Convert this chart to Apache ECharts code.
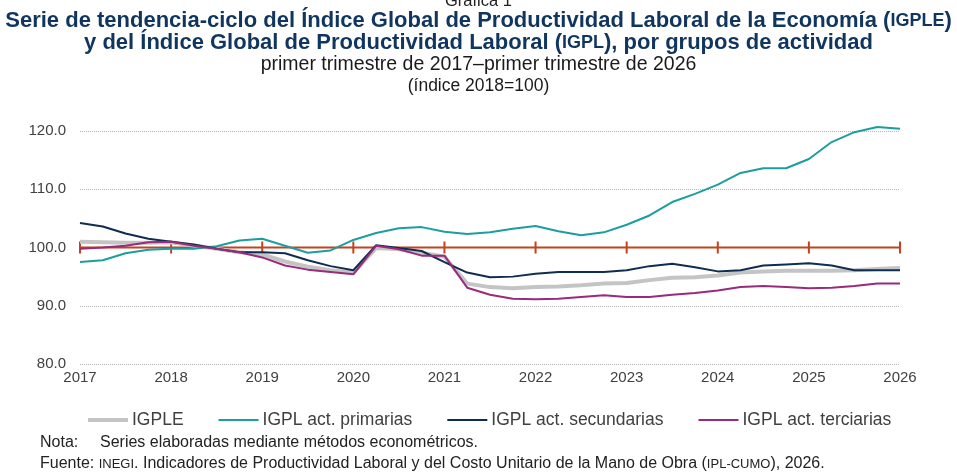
<!DOCTYPE html>
<html>
<head>
<meta charset="utf-8">
<script src="https://cdn.jsdelivr.net/npm/echarts@6/dist/echarts.min.js"></script>
<style>
  html, body { margin: 0; padding: 0; background: #fff; }
  #chart { width: 957px; height: 475px; }
</style>
</head>
<body>
<div id="chart"></div>
<script>
// series de tendencia-ciclo, trimestral 2017T1 - 2026T1
var years = [2017, 2018, 2019, 2020, 2021, 2022, 2023, 2024, 2025, 2026];

var igple = [101.0, 100.9, 100.8, 100.8, 100.9, 100.3, 99.8, 99.2, 98.8, 97.6, 96.7, 96.1, 95.7,
  99.9, 99.7, 99.1, 98.4, 93.8, 93.2, 93.0, 93.2, 93.3, 93.5, 93.8, 93.9, 94.4, 94.8, 94.9,
  95.2, 95.7, 95.9, 96.0, 96.0, 96.0, 96.1, 96.3, 96.5];
var primarias = [97.5, 97.8, 99.0, 99.6, 99.8, 99.8, 100.2, 101.2, 101.5, 100.3, 99.1, 99.5, 101.3,
  102.5, 103.3, 103.5, 102.7, 102.3, 102.6, 103.2, 103.7, 102.8, 102.1, 102.6, 103.9, 105.5, 107.8,
  109.2, 110.8, 112.8, 113.6, 113.6, 115.2, 118.1, 119.8, 120.7, 120.4];
var secundarias = [104.2, 103.6, 102.4, 101.5, 101.0, 100.5, 99.8, 99.2, 99.2, 99.0, 97.8, 96.8, 96.1,
  100.4, 99.9, 99.4, 97.5, 95.7, 94.9, 95.0, 95.5, 95.8, 95.8, 95.8, 96.1, 96.8, 97.2, 96.6,
  95.9, 96.1, 96.9, 97.1, 97.3, 96.9, 96.1, 96.1, 96.1];
var terciarias = [99.8, 100.0, 100.3, 100.9, 101.0, 100.3, 99.8, 99.2, 98.3, 96.9, 96.2, 95.8, 95.4,
  100.3, 99.7, 98.6, 98.6, 93.1, 91.9, 91.2, 91.1, 91.2, 91.5, 91.8, 91.5, 91.5, 91.9, 92.2,
  92.6, 93.2, 93.4, 93.2, 93.0, 93.1, 93.4, 93.8, 93.8];
var base = 100;

var quarters = [];
years.forEach(function (y) {
  for (var q = 1; q <= 4; q++) {
    if (y === 2026 && q > 1) break;
    quarters.push(y + '|' + q);
  }
});

var baseData = quarters.map(function (c) {
  return { value: base, symbol: c.split('|')[1] === '1' ? 'rect' : 'none' };
});

var font = 'Liberation Sans, Arial, sans-serif';
var navyTitle = '#10365f';
var thinIcon = 'path://M0,0H40V2H0Z';
var thickIcon = 'path://M0,0H40V4H0Z';

var chart = echarts.init(document.getElementById('chart'));
chart.setOption({
  animation: false,
  textStyle: { fontFamily: font },
  title: [
    { text: 'Gráfica 1', left: 'center', top: -12,
      textStyle: { fontSize: 16.5, fontWeight: 'normal', color: '#222', fontFamily: font } },
    { text: '{b|Serie de tendencia-ciclo del Índice Global de Productividad Laboral de la Economía (}{s|IGPLE}{b|)}',
      left: 'center', top: 5,
      textStyle: { rich: {
        b: { fontSize: 22, fontWeight: 'bold', color: navyTitle, fontFamily: font },
        s: { fontSize: 18, fontWeight: 'bold', color: navyTitle, fontFamily: font } } } },
    { text: '{b|y del Índice Global de Productividad Laboral (}{s|IGPL}{b|), por grupos de actividad}',
      left: 'center', top: 27,
      textStyle: { rich: {
        b: { fontSize: 22, fontWeight: 'bold', color: navyTitle, fontFamily: font },
        s: { fontSize: 18, fontWeight: 'bold', color: navyTitle, fontFamily: font } } } },
    { text: 'primer trimestre de 2017–primer trimestre de 2026', left: 'center', top: 50,
      textStyle: { fontSize: 19.5, fontWeight: 'normal', color: '#1a1a1a', fontFamily: font } },
    { text: '(índice 2018=100)', left: 'center', top: 72,
      textStyle: { fontSize: 17.5, fontWeight: 'normal', color: '#1a1a1a', fontFamily: font } }
  ],
  grid: { left: 80, right: 57, top: 131, bottom: 111 },
  legend: {
    data: [
      { name: 'IGPLE', icon: thickIcon },
      { name: 'IGPL act. primarias', icon: thinIcon },
      { name: 'IGPL act. secundarias', icon: thinIcon },
      { name: 'IGPL act. terciarias', icon: thinIcon }
    ],
    left: 83, top: 406,
    itemWidth: 40, itemHeight: 14, itemGap: 35,
    textStyle: { fontSize: 17.5, color: '#404040', fontFamily: font, padding: [0, 0, 0, -1] }
  },
  xAxis: {
    type: 'category',
    data: quarters,
    boundaryGap: false,
    axisLine: { show: false },
    axisTick: { show: false },
    axisLabel: {
      interval: 3, margin: 6, fontSize: 15, color: '#404040', fontFamily: font,
      formatter: function (v) { return v.split('|')[0]; }
    },
    splitLine: { show: false }
  },
  yAxis: {
    type: 'value', min: 80, max: 120, interval: 10,
    axisLine: { show: false },
    axisTick: { show: false },
    axisLabel: {
      margin: 14, fontSize: 15, color: '#404040', fontFamily: font,
      formatter: function (v) { return v.toFixed(1); }
    },
    splitLine: { lineStyle: { type: 'dotted', color: '#b5b5b5', width: 1 } }
  },
  series: [
    { name: '100', type: 'line', data: baseData, z: 1, clip: false,
      symbolSize: [2, 12], silent: true,
      lineStyle: { color: '#c4421d', width: 2 },
      itemStyle: { color: '#c4421d' } },
    { name: 'IGPLE', type: 'line', data: igple, showSymbol: false, symbol: 'none', z: 2, clip: false,
      lineStyle: { color: '#c4c4c4', width: 4 }, itemStyle: { color: '#c4c4c4' } },
    { name: 'IGPL act. primarias', type: 'line', data: primarias, showSymbol: false, symbol: 'none', z: 3, clip: false,
      lineStyle: { color: '#1c9e9e', width: 2 }, itemStyle: { color: '#1c9e9e' } },
    { name: 'IGPL act. secundarias', type: 'line', data: secundarias, showSymbol: false, symbol: 'none', z: 4, clip: false,
      lineStyle: { color: '#0e2d4f', width: 2 }, itemStyle: { color: '#0e2d4f' } },
    { name: 'IGPL act. terciarias', type: 'line', data: terciarias, showSymbol: false, symbol: 'none', z: 5, clip: false,
      lineStyle: { color: '#9a2a7a', width: 2 }, itemStyle: { color: '#9a2a7a' } }
  ],
  graphic: [
    { type: 'text', left: 40, top: 435,
      style: { text: 'Nota:', font: '16px ' + font, fill: '#222' } },
    { type: 'text', left: 100, top: 435,
      style: { text: 'Series elaboradas mediante métodos econométricos.', font: '16px ' + font, fill: '#222' } },
    { type: 'text', left: 40, top: 456,
      style: {
        text: '{n|Fuente: }{s|INEGI}{n|. Indicadores de Productividad Laboral y del Costo Unitario de la Mano de Obra (}{s|IPL-CUMO}{n|), 2026.}',
        rich: {
          n: { fontSize: 16, fontFamily: font, fill: '#222', color: '#222' },
          s: { fontSize: 13, fontFamily: font, fill: '#222', color: '#222' }
        }
      } }
  ]
});
</script>
</body>
</html>
